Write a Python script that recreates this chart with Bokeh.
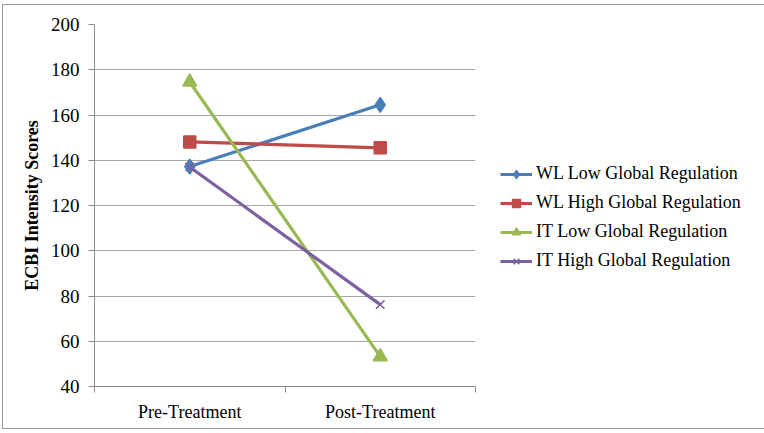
from bokeh.plotting import figure
from bokeh.models import FixedTicker, Legend, LegendItem, Range1d, ColumnDataSource
from bokeh.embed import file_html
from bokeh.resources import INLINE

categories = ["Pre-Treatment", "Post-Treatment"]
series_names = ["WL Low Global Regulation", "WL High Global Regulation",
                "IT Low Global Regulation", "IT High Global Regulation"]
wl_low = [137.2, 164.5]
wl_high = [148.1, 145.5]
it_low = [174.6, 53.2]
it_high = [137.0, 76.2]
y_ticks = [40, 60, 80, 100, 120, 140, 160, 180, 200]

FONT = "Liberation Serif"
xs = [i + 0.5 for i in range(len(categories))]

p = figure(frame_width=381, frame_height=362, output_backend="svg", toolbar_location=None,
           x_range=Range1d(0, len(categories)), y_range=Range1d(40, 200),
           min_border_left=91, min_border_right=0, min_border_top=19, min_border_bottom=42)
p.styles = {"border": "1px solid #9a9a9a", "margin": "4px 0 0 2px"}
p.outline_line_color = None
p.background_fill_color = "white"

# axes
p.xaxis.ticker = FixedTicker(ticks=xs, minor_ticks=list(range(len(categories) + 1)))
p.xaxis.major_label_overrides = {x: c for x, c in zip(xs, categories)}
p.xaxis.major_tick_line_color = None
p.xaxis.minor_tick_line_color = "#8c8c8c"
p.xaxis.minor_tick_out = 6
p.xaxis.minor_tick_in = 0
p.xaxis.axis_line_color = "#8c8c8c"
p.xaxis.major_label_text_font = FONT
p.xaxis.major_label_text_font_size = "18px"
p.xaxis.major_label_text_color = "black"
p.xaxis.major_label_standoff = 9
p.xgrid.grid_line_color = None

p.yaxis.ticker = FixedTicker(ticks=y_ticks)
p.yaxis.axis_line_color = "#8c8c8c"
p.yaxis.major_tick_line_color = "#8c8c8c"
p.yaxis.major_tick_out = 6
p.yaxis.major_tick_in = 0
p.yaxis.minor_tick_line_color = None
p.yaxis.major_label_text_font = FONT
p.yaxis.major_label_text_font_size = "19px"
p.yaxis.major_label_text_color = "black"
p.yaxis.major_label_standoff = 9
p.yaxis.axis_label = "ECBI Intensity Scores"
p.yaxis.axis_label_text_font = FONT
p.yaxis.axis_label_text_font_size = "18px"
p.yaxis.axis_label_text_font_style = "bold"
p.yaxis.axis_label_text_color = "black"
p.yaxis.axis_label_standoff = 6
p.ygrid.grid_line_color = "#a6a6a6"
p.ygrid.grid_line_width = 1

colors = ["#4A7EBB", "#BE4B48", "#98B954", "#7D60A0"]
markers = ["diamond", "square", "triangle", "x"]
sizes = [15, 12, 14, 12]
data = [wl_low, wl_high, it_low, it_high]

items = []
for name, vals, c, m, s in zip(series_names, data, colors, markers, sizes):
    src = ColumnDataSource(dict(x=xs, y=vals))
    r1 = p.line("x", "y", source=src, line_color=c, line_width=3.2)
    if m == "x":
        r2 = p.scatter("x", "y", source=src, marker=m, size=s, line_color=c, line_width=1.5)
    else:
        r2 = p.scatter("x", "y", source=src, marker=m, size=s,
                       fill_color=c, line_color=c, line_width=1.5)
    items.append(LegendItem(label=name, renderers=[r1, r2]))

legend = Legend(items=items, location=(25, 115), border_line_color=None,
                background_fill_alpha=0, padding=0, margin=0,
                glyph_width=32, glyph_height=20, label_height=20, spacing=8,
                label_standoff=4, label_text_font=FONT, label_text_font_size="18px",
                label_text_color="black")
p.add_layout(legend, "right")

open("out.html", "w").write(file_html(p, INLINE))
